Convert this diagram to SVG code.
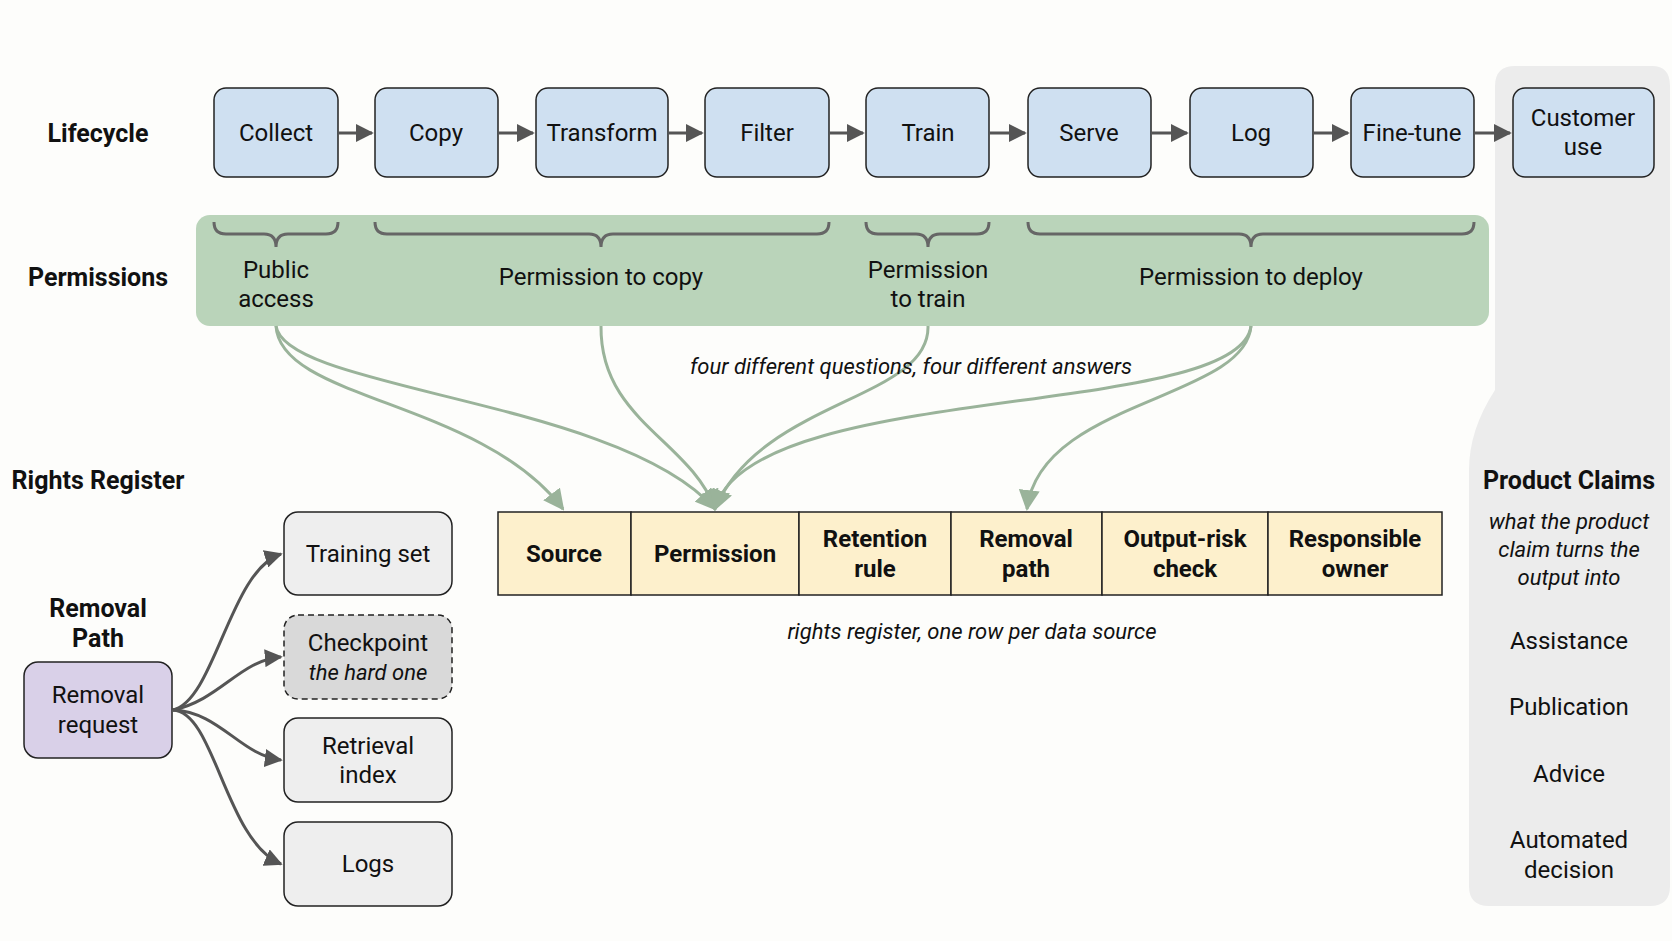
<svg xmlns="http://www.w3.org/2000/svg" width="1672" height="941" viewBox="0 0 1672 941">
<defs>
<marker id="ah" viewBox="0 0 10 10" refX="9" refY="5" markerWidth="6" markerHeight="6" orient="auto" markerUnits="strokeWidth"><path d="M0,0 L10,5 L0,10 z" fill="#555"/></marker>
<marker id="ag" viewBox="0 0 10 10" refX="9" refY="5" markerWidth="7" markerHeight="7" orient="auto" markerUnits="strokeWidth"><path d="M0,0 L10,5 L0,10 z" fill="#9ab39a"/></marker>
<style>
text{font-family:Roboto,"Liberation Sans",sans-serif;fill:#111;text-anchor:middle}
.lab{font-size:25px;font-weight:bold}
.n{font-size:24px}
.it{font-style:italic;font-size:22px}
.b{font-size:24px;font-weight:bold}
.lc{fill:#cfe0f1;stroke:#222;stroke-width:1.5}
.gr{fill:#eeeeee;stroke:#222;stroke-width:1.5}
.br{fill:none;stroke:#666;stroke-width:3}
.ar{fill:none;stroke:#555;stroke-width:3;marker-end:url(#ah)}
.gc{fill:none;stroke:#9ab39a;stroke-width:3;marker-end:url(#ag)}
.cell{fill:#fdf0cc;stroke:#222;stroke-width:1.5}
</style>
</defs>
<rect width="1672" height="941" fill="#fdfdfb"/>
<path id="panel" d="M1515,66 H1652 Q1670,66 1670,86 V886 Q1670,906 1650,906 H1489 Q1469,906 1469,886 V470 Q1469,430 1495,390 V86 Q1495,66 1515,66 Z" fill="#ececec"/>
<g id="labels">
<text class="lab" x="98" y="142">Lifecycle</text>
<text class="lab" x="98" y="286">Permissions</text>
<text class="lab" x="98" y="489">Rights Register</text>
<text class="lab" x="98" y="617">Removal</text>
<text class="lab" x="98" y="647">Path</text>
</g>
<g id="lifecycle">
<g id="collect"><rect class="lc" x="214" y="88" width="124" height="89" rx="12"/><text class="n" x="276" y="141">Collect</text></g>
<g id="copy"><rect class="lc" x="375" y="88" width="123" height="89" rx="12"/><text class="n" x="436" y="141">Copy</text></g>
<g id="transform"><rect class="lc" x="536" y="88" width="132" height="89" rx="12"/><text class="n" x="602" y="141">Transform</text></g>
<g id="filter"><rect class="lc" x="705" y="88" width="124" height="89" rx="12"/><text class="n" x="767" y="141">Filter</text></g>
<g id="train"><rect class="lc" x="866" y="88" width="123" height="89" rx="12"/><text class="n" x="928" y="141">Train</text></g>
<g id="serve"><rect class="lc" x="1028" y="88" width="123" height="89" rx="12"/><text class="n" x="1089" y="141">Serve</text></g>
<g id="log"><rect class="lc" x="1190" y="88" width="123" height="89" rx="12"/><text class="n" x="1251" y="141">Log</text></g>
<g id="finetune"><rect class="lc" x="1351" y="88" width="123" height="89" rx="12"/><text class="n" x="1412" y="141">Fine-tune</text></g>
<g id="customer"><rect class="lc" x="1513" y="88" width="141" height="89" rx="12"/><text class="n" x="1583" y="126">Customer</text><text class="n" x="1583" y="155">use</text></g>
</g>
<g id="permissions">
<rect x="196" y="215" width="1293" height="111" rx="14" fill="#bad4ba"/>
<path class="br" d="M214,222 q0,12 12,12 h38 q12,0 12,13 q0,-13 12,-13 h38 q12,0 12,-12"/>
<path class="br" d="M375,222 q0,12 12,12 h202 q12,0 12,13 q0,-13 12,-13 h204 q12,0 12,-12"/>
<path class="br" d="M866,222 q0,12 12,12 h38 q12,0 12,13 q0,-13 12,-13 h37 q12,0 12,-12"/>
<path class="br" d="M1028,222 q0,12 12,12 h199 q12,0 12,13 q0,-13 12,-13 h199 q12,0 12,-12"/>
<text class="n" x="276" y="278">Public</text><text class="n" x="276" y="307">access</text>
<text class="n" x="601" y="285">Permission to copy</text>
<text class="n" x="928" y="278">Permission</text><text class="n" x="928" y="307">to train</text>
<text class="n" x="1251" y="285">Permission to deploy</text>
</g>
<g id="connectors">
<path class="gc" d="M276,326 C280,400 480,400 563,509"/>
<path class="gc" d="M276,326 C285,390 620,400 715,509"/>
<path class="gc" d="M601,326 C600,420 690,440 715,509"/>
<path class="gc" d="M928,326 C930,400 760,400 715,509"/>
<path class="gc" d="M1251,326 C1240,420 750,380 715,509"/>
<path class="gc" d="M1251,326 C1245,400 1040,400 1027,509"/>
<path class="ar" d="M338,133 H372"/>
<path class="ar" d="M498,133 H533"/>
<path class="ar" d="M668,133 H702"/>
<path class="ar" d="M829,133 H863"/>
<path class="ar" d="M989,133 H1025"/>
<path class="ar" d="M1151,133 H1187"/>
<path class="ar" d="M1313,133 H1348"/>
<path class="ar" d="M1474,133 H1510"/>
<path class="ar" d="M173,710 C215,700 230,570 281,554"/>
<path class="ar" d="M173,710 C220,700 240,660 281,657"/>
<path class="ar" d="M173,710 C220,712 240,755 281,760"/>
<path class="ar" d="M173,710 C215,712 225,840 281,864"/>
</g>
<text class="it" x="911" y="374">four different questions, four different answers</text>
<g id="register">
<rect class="cell" x="498" y="512" width="133" height="83"/>
<rect class="cell" x="631" y="512" width="168" height="83"/>
<rect class="cell" x="799" y="512" width="152" height="83"/>
<rect class="cell" x="951" y="512" width="151" height="83"/>
<rect class="cell" x="1102" y="512" width="166" height="83"/>
<rect class="cell" x="1268" y="512" width="174" height="83"/>
<text class="b" x="564" y="562">Source</text>
<text class="b" x="715" y="562">Permission</text>
<text class="b" x="875" y="547">Retention</text><text class="b" x="875" y="577">rule</text>
<text class="b" x="1026" y="547">Removal</text><text class="b" x="1026" y="577">path</text>
<text class="b" x="1185" y="547">Output-risk</text><text class="b" x="1185" y="577">check</text>
<text class="b" x="1355" y="547">Responsible</text><text class="b" x="1355" y="577">owner</text>
<text class="it" x="972" y="639">rights register, one row per data source</text>
</g>
<g id="removal">
<g id="request"><rect x="24" y="662" width="148" height="96" rx="14" fill="#d9d0e8" stroke="#222" stroke-width="1.5"/><text class="n" x="98" y="703">Removal</text><text class="n" x="98" y="733">request</text></g>
<g id="trainingset"><rect class="gr" x="284" y="512" width="168" height="83" rx="14"/><text class="n" x="368" y="562">Training set</text></g>
<g id="checkpoint"><rect x="284" y="615" width="168" height="84" rx="14" fill="#d9d9d9" stroke="#222" stroke-width="1.5" stroke-dasharray="6 4"/><text class="n" x="368" y="651">Checkpoint</text><text class="it" x="368" y="680">the hard one</text></g>
<g id="retrieval"><rect class="gr" x="284" y="718" width="168" height="84" rx="14"/><text class="n" x="368" y="754">Retrieval</text><text class="n" x="368" y="783">index</text></g>
<g id="logs"><rect class="gr" x="284" y="822" width="168" height="84" rx="14"/><text class="n" x="368" y="872">Logs</text></g>
</g>
<g id="claims">
<text class="lab" x="1569" y="489">Product Claims</text>
<text class="it" x="1569" y="529">what the product</text>
<text class="it" x="1569" y="557">claim turns the</text>
<text class="it" x="1569" y="585">output into</text>
<text class="n" x="1569" y="649">Assistance</text>
<text class="n" x="1569" y="715">Publication</text>
<text class="n" x="1569" y="782">Advice</text>
<text class="n" x="1569" y="848">Automated</text>
<text class="n" x="1569" y="878">decision</text>
</g>
</svg>
